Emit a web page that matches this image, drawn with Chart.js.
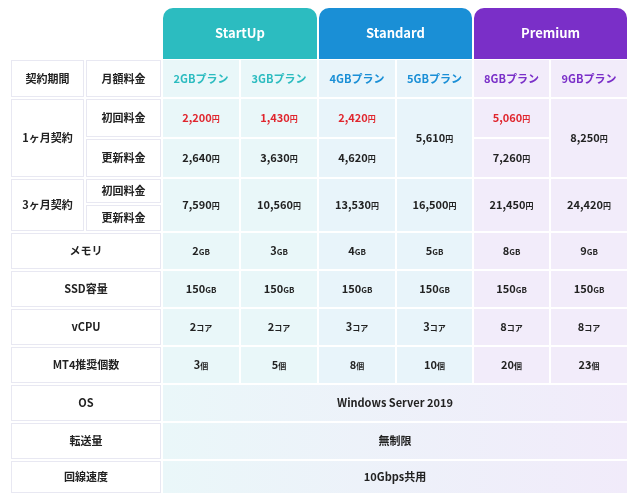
<!DOCTYPE html>
<html><head><meta charset="utf-8">
<script src="https://cdn.jsdelivr.net/npm/chart.js@4/dist/chart.umd.min.js"></script>
<style>html,body{margin:0;background:#fff}#c{display:block}</style>
</head><body>
<div style="width:640px;height:494px"><canvas id="c"></canvas></div>
<script>
// データ
var groups = ['StartUp', 'Standard', 'Premium']
var plans = ['2GBプラン', '3GBプラン', '4GBプラン', '5GBプラン', '8GBプラン', '9GBプラン']
var first1m = [2200, 1430, 2420, 5610, 5060, 8250]
var renew1m = [2640, 3630, 4620, null, 7260, null]
var price3m = [7590, 10560, 13530, 16500, 21450, 24420]
var memory = [2, 3, 4, 5, 8, 9]
var ssd = [150, 150, 150, 150, 150, 150]
var vcpu = [2, 2, 3, 3, 8, 8]
var mt4 = [3, 5, 8, 10, 20, 23]
var rowLabels = ['メモリ', 'SSD容量', 'vCPU', 'MT4推奨個数', 'OS', '転送量', '回線速度']
var sharedRows = ['Windows Server 2019', '無制限', '10Gbps共用']

// レイアウト (px)
var colEdges = [10, 85, 162, 240, 318, 396, 473, 550, 628]
var rowEdges = [8, 59, 98, 138, 178, 204, 232, 270, 308, 346, 384, 422, 460, 494]
var groupColor = ['#2cbcc0', '#1a8fd6', '#7a2fc8']
var groupBg = ['#e9f7f9', '#e8f4fa', '#f2ecfa']
var FONT = '"Noto Sans CJK JP", "Noto Sans", sans-serif'

var tablePlugin = {
  id: 'table',
  afterDraw: function(chart) {
    var ctx = chart.ctx, sx = chart.scales.x, sy = chart.scales.y
    function X(i) { return sx.getPixelForValue(colEdges[i]) }
    function Y(i) { return sy.getPixelForValue(rowEdges[i]) }
    function cell(c0, c1, r0, r1, fill, stroke) {
      var x = X(c0) + 1, y = Y(r0) + 1, w = X(c1) - X(c0) - 2, h = Y(r1) - Y(r0) - 2
      ctx.fillStyle = fill; ctx.fillRect(x, y, w, h)
      if (stroke) { ctx.strokeStyle = stroke; ctx.lineWidth = 1; ctx.strokeRect(x + 0.5, y + 0.5, w - 1, h - 1) }
    }
    function text(s, c0, c1, yy, color, size) {
      ctx.fillStyle = color || '#222'
      ctx.font = 'bold ' + (size || 11) + 'px ' + FONT
      ctx.textAlign = 'center'; ctx.textBaseline = 'middle'
      ctx.fillText(s, (X(c0) + X(c1)) / 2, yy)
    }
    function unitText(num, unit, c0, c1, yy, color) {
      ctx.font = 'bold 11px ' + FONT
      var w1 = ctx.measureText(num).width
      ctx.font = 'bold 8px ' + FONT
      var w2 = ctx.measureText(unit).width
      var x = (X(c0) + X(c1)) / 2 - (w1 + w2) / 2
      ctx.textAlign = 'left'; ctx.textBaseline = 'middle'; ctx.fillStyle = color || '#222'
      ctx.font = 'bold 11px ' + FONT; ctx.fillText(num, x, yy)
      ctx.font = 'bold 8px ' + FONT; ctx.fillText(unit, x + w1, yy + 1)
    }
    function mid(r0, r1) { return (Y(r0) + Y(r1)) / 2 }
    function yen(v) { return v.toLocaleString('en-US') }
    function colBg(p) { return groupBg[Math.floor(p / 2)] }

    // グループ見出し
    for (var g = 0; g < 3; g++) {
      var x0 = X(2 + g * 2) + 1, x1 = X(4 + g * 2) - 1, y0 = Y(0), y1 = Y(1)
      ctx.fillStyle = groupColor[g]
      ctx.beginPath(); ctx.roundRect(x0, y0, x1 - x0, y1 - y0, [10, 10, 0, 0]); ctx.fill()
      text(groups[g], 2 + g * 2, 4 + g * 2, (y0 + y1) / 2, '#fff', 13)
    }
    // 左の見出しセル
    var lb = '#e8e8f2'
    cell(0, 1, 1, 2, '#fff', lb); cell(1, 2, 1, 2, '#fff', lb)
    text('契約期間', 0, 1, mid(1, 2)); text('月額料金', 1, 2, mid(1, 2))
    cell(0, 1, 2, 4, '#fff', lb); text('1ヶ月契約', 0, 1, mid(2, 4))
    cell(1, 2, 2, 3, '#fff', lb); text('初回料金', 1, 2, mid(2, 3))
    cell(1, 2, 3, 4, '#fff', lb); text('更新料金', 1, 2, mid(3, 4))
    cell(0, 1, 4, 6, '#fff', lb); text('3ヶ月契約', 0, 1, mid(4, 6))
    cell(1, 2, 4, 5, '#fff', lb); text('初回料金', 1, 2, mid(4, 5))
    cell(1, 2, 5, 6, '#fff', lb); text('更新料金', 1, 2, mid(5, 6))
    for (var r = 0; r < rowLabels.length; r++) {
      cell(0, 2, 6 + r, 7 + r, '#fff', lb); text(rowLabels[r], 0, 2, mid(6 + r, 7 + r))
    }
    // プラン列
    for (var p = 0; p < plans.length; p++) {
      var c = 2 + p, bg = colBg(p)
      cell(c, c + 1, 1, 2, bg); text(plans[p], c, c + 1, mid(1, 2), groupColor[Math.floor(p / 2)], 11)
      if (renew1m[p] === null) {
        cell(c, c + 1, 2, 4, bg); unitText(yen(first1m[p]), '円', c, c + 1, mid(2, 4))
      } else {
        cell(c, c + 1, 2, 3, bg); unitText(yen(first1m[p]), '円', c, c + 1, mid(2, 3), '#e0262e')
        cell(c, c + 1, 3, 4, bg); unitText(yen(renew1m[p]), '円', c, c + 1, mid(3, 4))
      }
      cell(c, c + 1, 4, 6, bg); unitText(yen(price3m[p]), '円', c, c + 1, mid(4, 6))
      cell(c, c + 1, 6, 7, bg); unitText(String(memory[p]), 'GB', c, c + 1, mid(6, 7))
      cell(c, c + 1, 7, 8, bg); unitText(String(ssd[p]), 'GB', c, c + 1, mid(7, 8))
      cell(c, c + 1, 8, 9, bg); unitText(String(vcpu[p]), 'コア', c, c + 1, mid(8, 9))
      cell(c, c + 1, 9, 10, bg); unitText(String(mt4[p]), '個', c, c + 1, mid(9, 10))
    }
    // 共通行
    for (var s = 0; s < sharedRows.length; s++) {
      var rr = 10 + s
      var grd = ctx.createLinearGradient(X(2), 0, X(8), 0)
      grd.addColorStop(0, '#eaf7f9'); grd.addColorStop(1, '#f1ebfa')
      cell(2, 8, rr, rr + 1, grd); text(sharedRows[s], 2, 8, mid(rr, rr + 1))
    }
  }
}

new Chart(document.getElementById('c'), {
  type: 'scatter',
  data: { datasets: [{ data: [] }] },
  options: {
    responsive: true, maintainAspectRatio: false, animation: false,
    layout: { padding: 0 },
    plugins: { legend: { display: false }, tooltip: { enabled: false } },
    scales: {
      x: { type: 'linear', min: 0, max: 640, display: false },
      y: { type: 'linear', min: 0, max: 494, reverse: true, display: false }
    }
  },
  plugins: [tablePlugin]
})
</script>
</body></html>
